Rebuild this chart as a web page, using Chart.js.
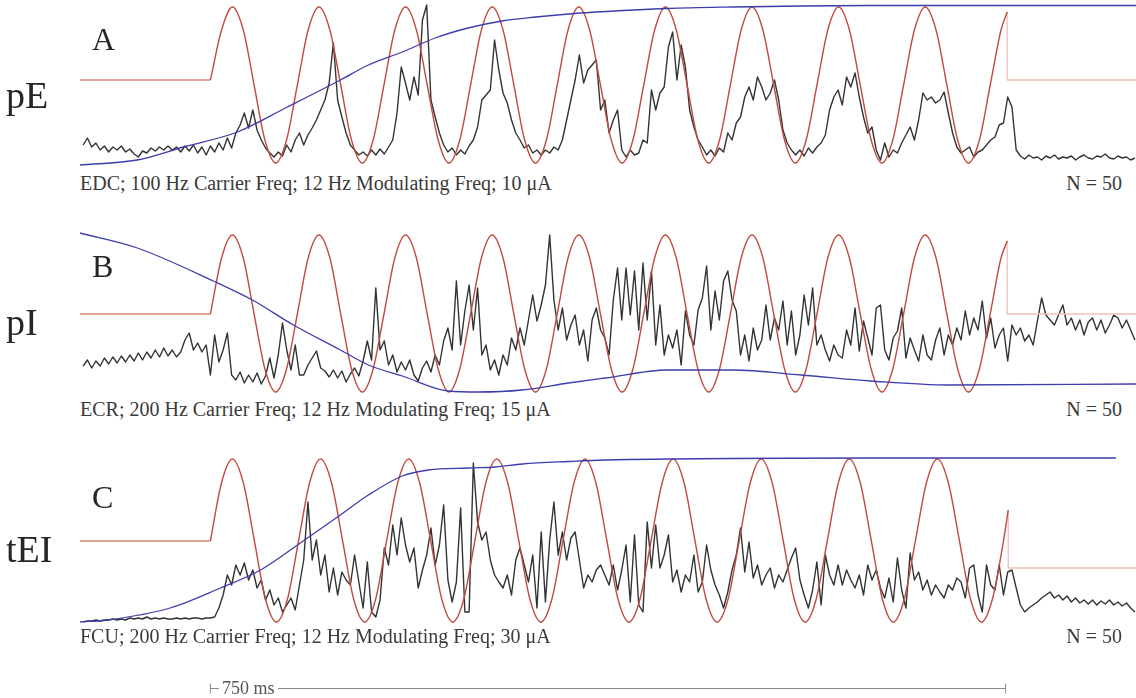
<!DOCTYPE html>
<html>
<head>
<meta charset="utf-8">
<script src="https://cdn.jsdelivr.net/npm/chart.js@4.4.1/dist/chart.umd.min.js"></script>
<style>
  body { margin: 0; background: #fff; }
  #figure {
    position: relative;
    width: 1136px;
    height: 698px;
    overflow: hidden;
    font-family: "Liberation Serif", "Times New Roman", serif;
    color: #262626;
  }
  #figure canvas { position: absolute; left: 80px; }
  .label { position: absolute; line-height: 1; white-space: nowrap; }
  .panel-letter { font-size: 32px; left: 92px; }
  .muscle { font-size: 38px; left: 6px; }
  .caption { font-size: 20px; left: 80px; color: #3a3a3a; }
  .count { font-size: 20px; right: 14px; color: #3a3a3a; }
  .scale-label { font-size: 18px; left: 219px; top: 679px; padding: 0 3px; background: #fff; color: #555; }
</style>
</head>
<body>
<div id="figure">
  <canvas id="panelA" width="1056" height="170" style="top:0px"></canvas>
  <canvas id="panelB" width="1056" height="170" style="top:228px"></canvas>
  <canvas id="panelC" width="1056" height="243" style="top:455px"></canvas>

  <div class="label panel-letter" style="top:23px">A</div>
  <div class="label muscle" style="top:76px">pE</div>
  <div class="label caption" style="top:173px">EDC; 100 Hz Carrier Freq; 12 Hz Modulating Freq; 10 μA</div>
  <div class="label count" style="top:173px">N = 50</div>

  <div class="label panel-letter" style="top:250px">B</div>
  <div class="label muscle" style="top:303px">pI</div>
  <div class="label caption" style="top:399px">ECR; 200 Hz Carrier Freq; 12 Hz Modulating Freq; 15 μA</div>
  <div class="label count" style="top:399px">N = 50</div>

  <div class="label panel-letter" style="top:481px">C</div>
  <div class="label muscle" style="top:530px">tEI</div>
  <div class="label caption" style="top:626px">FCU; 200 Hz Carrier Freq; 12 Hz Modulating Freq; 30 μA</div>
  <div class="label count" style="top:626px">N = 50</div>

  <div class="label scale-label">750 ms</div>
</div>

<script>
// EMG traces, one sample every 4 ms starting 120 ms before stimulus onset
const sampleStartMs = -120;
const sampleStepMs = 4;

const emgA = [
  25,32,23,27,20,24,18,23,20,24, 18,21,16,13,19,17,22,19,23,20,
  24,20,23,18,24,19,25,17,23,15, 24,18,27,20,32,22,37,45,57,42,
  60,40,30,22,17,13,18,14,25,18, 30,37,25,35,42,50,60,70,87,127,
  70,53,37,25,20,15,18,14,20,15, 21,16,23,30,57,103,87,70,93,75,
  150,165,70,53,37,25,18,22,15,20, 16,24,30,43,70,75,80,130,100,77,
  67,50,37,30,22,25,17,20,15,20, 17,23,20,30,50,70,90,115,87,100,
  105,110,60,70,37,50,60,20,13,20, 15,17,30,27,80,60,77,83,123,138,
  90,125,103,60,43,30,23,15,20,14, 22,18,37,30,47,53,73,83,70,93,
  83,70,77,90,70,40,27,20,15,20, 14,22,17,23,27,35,60,73,80,65,
  93,83,97,73,53,37,43,20,10,27, 13,20,17,27,35,43,30,50,77,70,
  73,67,70,78,57,37,23,17,20,23, 13,18,20,25,30,33,45,47,73,63,
  20,14,11,15,12,13,10,14,12,15, 11,13,12,14,10,13,15,12,11,14,
  13,16,12,11,14,12,13,10,12
];

const emgB = [
  32,38,30,37,32,40,34,41,35,42, 36,43,37,45,38,46,40,48,41,50,
  42,48,41,46,58,65,48,55,46,53, 23,63,36,48,65,23,18,26,15,23,
  16,25,14,22,40,20,43,75,48,28, 53,23,23,33,40,47,30,27,21,28,
  20,27,16,24,30,22,37,57,38,110, 48,57,33,43,26,36,28,38,23,17,
  30,37,26,43,33,57,70,48,117,53, 87,113,68,110,43,53,28,38,23,43,
  33,60,48,70,53,78,103,77,93,113, 163,98,68,90,58,73,83,53,68,37,
  78,90,68,60,43,98,130,78,130,83, 127,68,135,78,127,53,93,43,63,50,
  68,33,87,63,53,88,100,132,68,107, 78,117,127,98,87,43,63,37,70,48,
  58,93,58,80,68,97,53,87,43,63, 103,73,110,53,63,48,37,53,43,40,
  68,53,90,47,77,60,43,90,93,48, 38,60,67,90,40,60,48,37,63,43,
  38,58,70,43,63,53,70,58,87,63, 80,68,97,60,80,50,63,70,37,73,
  63,70,57,63,53,77,100,83,78,73, 83,93,73,80,68,78,63,76,80,68,
  78,65,73,83,80,70,78,68,58
];

const emgC = [
  3,4,4,5,4,5,5,6,5,6, 5,7,6,7,6,8,6,7,6,7,
  6,6,7,6,7,6,7,7,6,7, 7,8,17,30,50,40,60,50,62,45,
  55,37,45,25,35,20,27,13,20,27, 15,40,65,123,65,85,50,70,33,57,
  30,53,45,40,70,43,17,63,13,8, 25,77,60,100,70,107,80,63,77,37,
  55,70,97,60,80,120,45,23,43,117, 13,13,162,103,85,93,65,50,43,37,
  50,30,65,77,60,43,70,17,93,23, 85,123,70,93,65,87,93,65,37,50,
  43,55,60,50,40,60,35,55,80,23, 90,20,13,103,57,100,57,70,90,43,
  55,33,50,43,70,33,43,80,55,40, 30,17,33,55,70,97,53,83,47,60,
  40,50,57,37,50,43,55,67,77,45, 30,17,35,63,20,70,50,40,60,40,
  55,45,37,50,30,60,45,55,37,27, 47,23,67,35,17,72,45,53,35,45,
  30,40,33,27,40,35,47,43,27,57, 60,30,13,60,40,35,60,30,53,55,
  37,20,13,17,20,23,27,30,33,27, 30,25,29,23,27,22,25,21,25,20,
  24,21,25,20,23,19,22,17,13
];

// Stimulus envelope (ms) while the train is on
const stimTimesAB = [
  0,10.5,20.8,31.0,41.2,51.4,61.6,71.8,82.0,92.2,
  102.4,112.7,122.9,133.1,143.3,153.5,163.7,173.9,184.1,194.3,
  204.5,214.8,225.0,235.2,245.4,255.6,265.8,276.0,286.2,296.4,
  306.6,316.9,327.1,337.3,347.5,357.7,367.9,378.1,388.3,398.5,
  408.7,419.0,429.2,439.4,449.6,459.8,470.0,480.2,490.4,500.6,
  510.8,521.1,531.3,541.5,551.7,561.9,572.1,582.3,592.5,602.7,
  612.9,623.2,633.4,643.6,653.8,664.0,674.2,684.4,694.6,704.8,
  715.0,725.3,735.5,745.7,751.5
];
const stimA = [
  90,
  140,163,140,85,30,7,30,85, 140,163,140,85,30,7,30,85, 140,163,140,85,30,7,30,85,
  140,163,140,85,30,7,30,85, 140,163,140,85,30,7,30,85, 140,163,140,85,30,7,30,85,
  140,163,140,85,30,7,30,85, 140,163,140,85,30,7,30,85, 140,163,140,85,30,7,30,85,
  140,158
];
const stimB = [
  84,
  140,163,140,84,29,6,29,84, 140,163,140,84,29,6,29,84, 140,163,140,84,29,6,29,84,
  140,163,140,84,29,6,29,84, 140,163,140,84,29,6,29,84, 140,163,140,84,29,6,29,84,
  140,163,140,84,29,6,29,84, 140,163,140,84,29,6,29,84, 140,163,140,84,29,6,29,84,
  140,157
];
const stimTimesC = [
  0,10.4,20.8,31.1,41.5,51.9,62.3,72.7,83.1,93.5,
  103.9,114.3,124.7,135.1,145.5,155.9,166.2,176.6,187.0,197.4,
  207.8,218.2,228.6,239.0,249.4,259.7,270.1,280.5,290.9,301.3,
  311.7,322.1,332.5,342.9,353.3,363.6,374.0,384.4,394.8,405.2,
  415.6,426.0,436.4,446.8,457.1,467.5,477.9,488.3,498.7,509.1,
  519.5,529.9,540.3,550.6,561.0,571.4,581.8,592.2,602.6,613.0,
  623.4,633.8,644.1,654.5,664.9,675.3,685.7,696.1,706.5,716.9,
  727.3,737.6,748.0,752.5
];
const stimC = [
  84,
  142,166,142,84,26,3,26,84, 142,166,142,84,26,3,26,84, 142,166,142,84,26,3,26,84,
  142,166,142,84,26,3,26,84, 142,166,142,84,26,3,26,84, 142,166,142,84,26,3,26,84,
  142,166,142,84,26,3,26,84, 142,166,142,84,26,3,26,84, 142,166,142,84,26,3,26,84,
  115
];

// Stimulus level before onset and after offset
const restTimes = [-123, 0];
const restA = [90, 90];
const restB = [84, 84];
const restC = [84, 84];
const offTimesAB = [751.5, 751.5, 873];
const offTimesC = [752.5, 752.5, 873];
const offA = [158, 90, 90];
const offB = [157, 84, 84];
const offC = [115, 57, 57];

// Smoothed (blue) curves
const fitTimesA = [-123, -69, -25.5, 25.5, 72.6, 122.6, 149, 181, 212, 243, 275, 307, 338, 373, 431, 493, 557, 623, 873];
const fitA = [5, 10, 23, 38, 63, 90, 105, 118, 132, 142, 149, 153, 156, 158.5, 161.5, 163, 164, 164.5, 164.5];
const fitTimesB = [-123, -69, 2.8, 39.6, 78.3, 122.6, 149, 181, 224.5, 252.8, 294, 337.7, 372.6, 431, 493, 557, 623, 696, 873];
const fitB = [165, 150, 117, 98, 73, 48, 33, 22, 7, 6, 8, 15, 20, 28, 28, 23, 17, 13, 14];
const fitTimesC = [-123, -97, -38, 9.4, 47.2, 82.1, 122.6, 149, 181, 205.7, 243.4, 268.9, 294.3, 337.7, 372.6, 622.6, 753, 854];
const fitC = [3, 5, 17, 37, 55, 80, 110, 130, 149, 155, 157, 158, 161, 163.5, 165, 167, 167, 167];

const scaleBarMs = [0, 750];

const panels = [
  { id: "panelA", yMin: 0, emg: emgA, stimTimes: stimTimesAB, stim: stimA, rest: restA, offTimes: offTimesAB, off: offA, fitTimes: fitTimesA, fit: fitA },
  { id: "panelB", yMin: 0, emg: emgB, stimTimes: stimTimesAB, stim: stimB, rest: restB, offTimes: offTimesAB, off: offB, fitTimes: fitTimesB, fit: fitB },
  { id: "panelC", yMin: -73, emg: emgC, stimTimes: stimTimesC, stim: stimC, rest: restC, offTimes: offTimesC, off: offC, fitTimes: fitTimesC, fit: fitC }
];

function xy(times, values) {
  return values.map((v, i) => ({ x: times[i], y: v }));
}

// 750 ms time bar under the last panel
const scaleBar = {
  id: "scaleBar",
  afterDraw(chart) {
    const { ctx, scales } = chart;
    const x0 = scales.x.getPixelForValue(scaleBarMs[0]);
    const x1 = scales.x.getPixelForValue(scaleBarMs[1]);
    const y = Math.round(scales.y.getPixelForValue(-63)) + 0.5;
    ctx.save();
    ctx.strokeStyle = "#8a8a8a";
    ctx.lineWidth = 1;
    ctx.beginPath();
    ctx.moveTo(x0, y);
    ctx.lineTo(x1, y);
    ctx.moveTo(x0, y - 5);
    ctx.lineTo(x0, y + 5);
    ctx.moveTo(x1, y - 5);
    ctx.lineTo(x1, y + 5);
    ctx.stroke();
    ctx.restore();
  }
};

function buildPanel(p) {
  const emgTimes = p.emg.map((_, i) => sampleStartMs + i * sampleStepMs);
  return new Chart(document.getElementById(p.id), {
    type: "line",
    data: {
      datasets: [
        { label: "Fit", data: xy(p.fitTimes, p.fit), borderColor: "#3d3dae", borderWidth: 1.3, cubicInterpolationMode: "monotone" },
        { label: "Stimulus", data: xy(p.stimTimes, p.stim), borderColor: "#c24a3e", borderWidth: 1.4, cubicInterpolationMode: "monotone" },
        { label: "Pre-stimulus", data: xy(restTimes, p.rest), borderColor: "#d88677", borderWidth: 1.3 },
        { label: "Post-stimulus", data: xy(p.offTimes, p.off), borderColor: "#efc1b7", borderWidth: 1.3 },
        { label: "EMG", data: xy(emgTimes, p.emg), borderColor: "#333333", borderWidth: 1.4 }
      ]
    },
    options: {
      responsive: false,
      animation: false,
      events: [],
      layout: { padding: 0 },
      plugins: {
        legend: { display: false },
        tooltip: { enabled: false }
      },
      elements: {
        point: { radius: 0 },
        line: { tension: 0, borderJoinStyle: "round" }
      },
      scales: {
        x: { type: "linear", display: false, min: -123, max: 873 },
        y: { display: false, min: p.yMin, max: 170 }
      }
    },
    plugins: p.id === "panelC" ? [scaleBar] : []
  });
}

panels.forEach(buildPanel);
</script>
</body>
</html>
